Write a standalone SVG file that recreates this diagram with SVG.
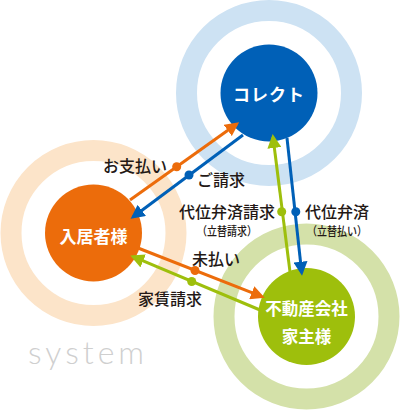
<svg xmlns="http://www.w3.org/2000/svg" width="402" height="413" viewBox="0 0 402 413">
<style>
.ring{fill:none;stroke-width:21}
.node text{fill:#fff;font-family:"Noto Sans CJK JP","Noto Sans",sans-serif;font-weight:bold;text-anchor:middle;dominant-baseline:central}
.lbl{fill:#231815;font-family:"Noto Sans CJK JP","Noto Sans",sans-serif;font-size:16px;font-weight:500;dominant-baseline:central}
.sub{font-size:12px}
.ln{fill:none;stroke-width:3}
</style>
<defs>
<marker id="aO" markerUnits="userSpaceOnUse" markerWidth="14" markerHeight="14" refX="11" refY="7" orient="auto" viewBox="0 0 14 14"><path d="M0,0 L14,7 L0,14 z" fill="#ec6c0b"/></marker>
<marker id="aB" markerUnits="userSpaceOnUse" markerWidth="14" markerHeight="14" refX="11" refY="7" orient="auto" viewBox="0 0 14 14"><path d="M0,0 L14,7 L0,14 z" fill="#0060b7"/></marker>
<marker id="aG" markerUnits="userSpaceOnUse" markerWidth="14" markerHeight="14" refX="11" refY="7" orient="auto" viewBox="0 0 14 14"><path d="M0,0 L14,7 L0,14 z" fill="#9ebf0c"/></marker>
</defs>
<text x="28" y="364" font-family="Lato,'Open Sans',sans-serif" font-weight="300" font-size="32" letter-spacing="4" fill="#cfcfcf">system</text>
<g id="collect" class="node">
<circle cx="269" cy="93" r="82.5" class="ring" stroke="#cde2f3"/>
<circle cx="269" cy="93" r="48.5" fill="#0060b7"/>
<text x="269" y="93" font-size="17" letter-spacing="1">コレクト</text>
</g>
<g id="resident" class="node">
<circle cx="93.5" cy="233" r="82.5" class="ring" stroke="#fce4c9"/>
<circle cx="93.5" cy="233" r="48.5" fill="#ec6c0b"/>
<text x="93.5" y="235" font-size="17">入居者様</text>
</g>
<g id="landlord" class="node">
<circle cx="306.5" cy="316.5" r="82.5" class="ring" stroke="#d4e1a9"/>
<circle cx="306.5" cy="316.5" r="48.5" fill="#9ebf0c"/>
<text x="306.5" y="308" font-size="16.5">不動産会社</text>
<text x="306.5" y="336" font-size="16.5">家主様</text>
</g>
<g id="connectors">
<line class="ln" stroke="#ec6c0b" x1="130" y1="200" x2="236.7" y2="124" marker-end="url(#aO)"/>
<circle cx="176.7" cy="166.7" r="4.5" fill="#ec6c0b"/>
<line class="ln" stroke="#0060b7" x1="243" y1="135" x2="133" y2="217" marker-end="url(#aB)"/>
<circle cx="189" cy="175" r="4.5" fill="#0060b7"/>
<line class="ln" stroke="#9ebf0c" x1="290" y1="272" x2="273" y2="137" marker-end="url(#aG)"/>
<circle cx="281.7" cy="211.7" r="4.5" fill="#9ebf0c"/>
<line class="ln" stroke="#0060b7" x1="287" y1="138" x2="301.7" y2="272.7" marker-end="url(#aB)"/>
<circle cx="295.8" cy="211.7" r="4.5" fill="#0060b7"/>
<line class="ln" stroke="#ec6c0b" x1="138" y1="248" x2="262" y2="296.7" marker-end="url(#aO)"/>
<circle cx="195" cy="270.5" r="4.5" fill="#ec6c0b"/>
<line class="ln" stroke="#9ebf0c" x1="260" y1="310" x2="133" y2="256.7" marker-end="url(#aG)"/>
<circle cx="191.7" cy="281.5" r="4.5" fill="#9ebf0c"/>
</g>
<g id="labels">
<text class="lbl" x="167" y="165" text-anchor="end">お支払い</text>
<text class="lbl" x="197" y="179">ご請求</text>
<text class="lbl" x="275" y="211" text-anchor="end">代位弁済請求</text>
<text class="lbl sub" x="197" y="230" textLength="60" lengthAdjust="spacingAndGlyphs">（立替請求）</text>
<text class="lbl" x="305" y="211">代位弁済</text>
<text class="lbl sub" x="307" y="230" textLength="60" lengthAdjust="spacingAndGlyphs">（立替払い）</text>
<text class="lbl" x="192" y="258">未払い</text>
<text class="lbl" x="138" y="298">家賃請求</text>
</g>
</svg>
